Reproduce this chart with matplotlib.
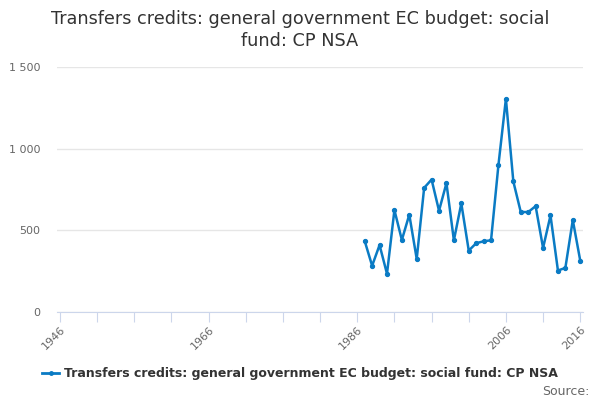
import numpy as np
import matplotlib
matplotlib.use("Agg")
import matplotlib.pyplot as plt
from matplotlib.lines import Line2D

years = list(range(1987, 2017))
values = [435, 283, 410, 234, 624, 441, 596, 325, 760, 811,
          620, 789, 439, 665, 376, 421, 433, 439, 902, 1305,
          799, 612, 612, 648, 392, 591, 254, 270, 563, 315]

title = "Transfers credits: general government EC budget: social\nfund: CP NSA"
series_name = "Transfers credits: general government EC budget: social fund: CP NSA"
yticks = [0, 500, 1000, 1500]
ytick_labels = ["0", "500", "1 000", "1 500"]
xticks = list(range(1946, 2017, 5))
xtick_labels = ["1946", "", "", "", "1966", "", "", "", "1986", "", "", "", "2006", "", "2016"]

line_col = "#0a7bc4"

fig = plt.figure(figsize=(6, 4), dpi=100)
ax = fig.add_axes([0.095, 0.22, 0.877, 0.6125])

ax.plot(years, values, color=line_col, lw=1.8, marker="o", ms=2.8, zorder=3)

ax.set_xlim(1945.6, 2016.4)
ax.set_ylim(0, 1500)
ax.set_yticks(yticks)
ax.set_yticklabels(ytick_labels)
ax.set_xticks(xticks)
ax.set_xticklabels(xtick_labels, rotation=45, ha="right", rotation_mode="anchor")

ax.grid(axis="y", color="#e6e6e6", lw=1)
ax.set_axisbelow(True)
for s in ["top", "right", "left"]:
    ax.spines[s].set_visible(False)
ax.spines["bottom"].set_color("#ccd6eb")
ax.tick_params(axis="y", length=0, labelsize=8, labelcolor="#666666", pad=12)
ax.tick_params(axis="x", length=7, color="#ccd6eb", labelsize=8, labelcolor="#666666", pad=2)

fig.text(0.5, 0.975, title, ha="center", va="top", fontsize=12.7, color="#333333", linespacing=1.25)

handle = Line2D([], [], color=line_col, lw=2, marker="o", ms=2.5)
fig.legend([handle], [series_name], loc="center", bbox_to_anchor=(0.5, 0.065),
           frameon=False, prop={"weight": "bold", "size": 9}, handlelength=1.3,
           handletextpad=0.4, labelcolor="#333333")
fig.text(0.982, 0.022, "Source:", ha="right", va="center", fontsize=9, color="#666666")

fig.savefig("out.png", dpi=100)
